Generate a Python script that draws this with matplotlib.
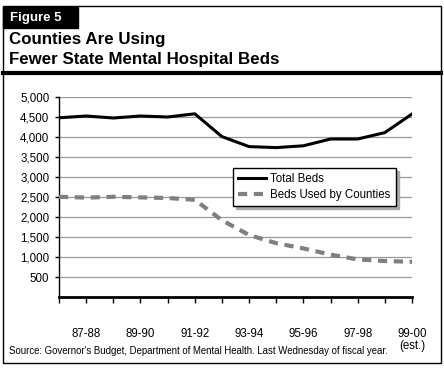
import matplotlib.pyplot as plt
from matplotlib.patches import Rectangle
from matplotlib.ticker import FuncFormatter

plt.rcParams['font.family'] = ['Liberation Sans', 'DejaVu Sans']

# 数据
years = ["86-87", "87-88", "88-89", "89-90", "90-91", "91-92", "92-93",
         "93-94", "94-95", "95-96", "96-97", "97-98", "98-99", "99-00\n(est.)"]
total_beds = [4480, 4525, 4475, 4525, 4500, 4580, 4010, 3760, 3735, 3780,
              3950, 3950, 4110, 4575]
county_beds = [2505, 2485, 2505, 2490, 2475, 2430, 1920, 1550, 1345, 1215,
               1060, 940, 900, 880]
yticks = [500, 1000, 1500, 2000, 2500, 3000, 3500, 4000, 4500, 5000]

W, H = 444, 369
fig = plt.figure(figsize=(W / 100, H / 100), dpi=100)

# 外框
fig.patches.append(Rectangle((3 / W, 6 / H), 438 / W, 357 / H, transform=fig.transFigure,
                             fill=False, edgecolor="black", linewidth=1.0))
# Figure 5 标签
fig.patches.append(Rectangle((3 / W, 1 - 28 / H), 75 / W, 21 / H, transform=fig.transFigure,
                             facecolor="black", edgecolor="black"))
fig.text(10 / W, 1 - 17.5 / H, "Figure 5", color="white", fontsize=9.5, fontweight="bold",
         va="center", ha="left")
# 标题
fig.text(9 / W, 1 - 44 / H, "Counties Are Using", fontsize=12.2, fontweight="bold",
         va="baseline", ha="left")
fig.text(9 / W, 1 - 64 / H, "Fewer State Mental Hospital Beds", fontsize=12.2,
         fontweight="bold", va="baseline", ha="left")
# 粗分隔线
fig.add_artist(plt.Line2D([3 / W, 441 / W], [1 - 72.5 / H, 1 - 72.5 / H],
                          transform=fig.transFigure, color="black", linewidth=3))

# 坐标轴
ax = fig.add_axes([59 / W, (H - 297) / H, (412 - 59) / W, 200 / H])
x = list(range(len(years)))
ax.plot(x, total_beds, color="black", linewidth=2.2, label="Total Beds", zorder=3)
ax.plot(x, county_beds, color="#7f7f7f", linewidth=3, dashes=(2.2, 1.6),
        label="Beds Used by Counties", zorder=3)

ax.set_xlim(0, len(years) - 1)
ax.set_ylim(0, 5000)
ax.set_yticks(yticks)
ax.yaxis.set_major_formatter(FuncFormatter(lambda v, p: f"{int(v):,}"))
ax.set_xticks(x)
ax.set_xticklabels([y if i % 2 == 1 else "" for i, y in enumerate(years)],
                   linespacing=1.0)
ax.tick_params(axis="x", direction="out", length=4, width=1, pad=18, labelsize=8.3)
ax.tick_params(axis="y", direction="out", length=3, width=1, pad=4, labelsize=8.3)
ax.grid(axis="y", color="#999999", linewidth=0.9)
ax.set_axisbelow(True)
for s in ["top", "right"]:
    ax.spines[s].set_visible(False)
ax.spines["left"].set_linewidth(1.0)
ax.spines["bottom"].set_linewidth(2)

leg = ax.legend(loc="upper left", bbox_to_anchor=((233 - 59) / 353, (297 - 168) / 200),
                frameon=True, fancybox=False, shadow={"color": "#aaaaaa", "alpha": 1},
                fontsize=8.3, handlelength=2.4, borderpad=0.45, labelspacing=0.3,
                handletextpad=0.4, borderaxespad=0)
leg.get_frame().set_edgecolor("black")
leg.get_frame().set_linewidth(1)

# 资料来源
fig.text(9 / W, 1 - 351 / H,
         "Source: Governor's Budget, Department of Mental Health. Last Wednesday of fiscal year.",
         fontsize=6.9, va="center", ha="left")

fig.savefig("out.png", dpi=100)
